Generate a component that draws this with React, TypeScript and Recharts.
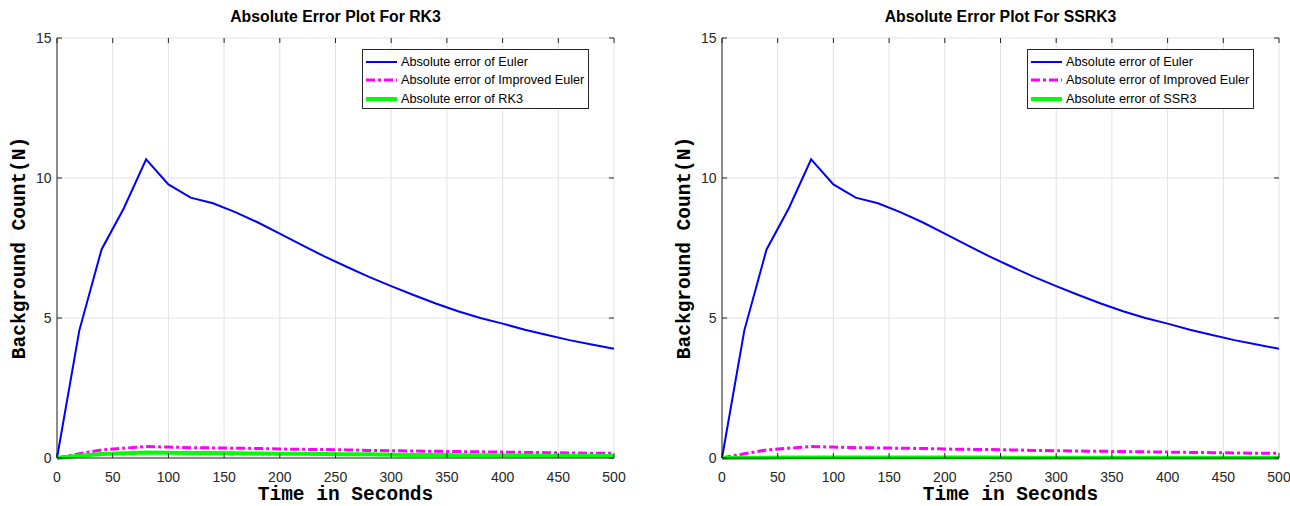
import React from "react";
import {
  CartesianGrid,
  Legend,
  Line,
  LineChart,
  XAxis,
  YAxis,
} from "recharts";

// sample times (s), every 20 s
const times = [
  0, 20, 40, 60, 80, 100, 120, 140, 160, 180, 200, 220, 240, 260, 280, 300,
  320, 340, 360, 380, 400, 420, 440, 460, 480, 500,
];

const eulerError = [
  0, 4.55, 7.45, 8.92, 10.67, 9.77, 9.3, 9.1, 8.78, 8.42, 8.01, 7.6, 7.2, 6.83,
  6.47, 6.14, 5.82, 5.52, 5.24, 5.0, 4.8, 4.58, 4.39, 4.21, 4.05, 3.9,
];

const improvedEulerError = [
  0, 0.15, 0.29, 0.35, 0.41, 0.39, 0.37, 0.36, 0.35, 0.34, 0.32, 0.31, 0.3,
  0.29, 0.27, 0.26, 0.25, 0.24, 0.23, 0.22, 0.21, 0.2, 0.19, 0.18, 0.17, 0.17,
];

const rk3Error = [
  0, 0.08, 0.14, 0.17, 0.2, 0.19, 0.18, 0.18, 0.17, 0.16, 0.15, 0.15, 0.14,
  0.13, 0.13, 0.12, 0.11, 0.11, 0.1, 0.1, 0.09, 0.09, 0.08, 0.08, 0.08, 0.07,
];

const ssr3Error = [
  0, 0.01, 0.01, 0.02, 0.02, 0.02, 0.02, 0.02, 0.02, 0.02, 0.02, 0.02, 0.02,
  0.01, 0.01, 0.01, 0.01, 0.01, 0.01, 0.01, 0.01, 0.01, 0.01, 0.01, 0.01, 0.01,
];

const xTicks = [0, 50, 100, 150, 200, 250, 300, 350, 400, 450, 500];
const yTicks = [0, 5, 10, 15];

const SANS = "'Liberation Sans', Arial, Helvetica, sans-serif";
const MONO = "'Liberation Mono', 'Courier New', monospace";
const AXIS = "#262626";

const CHART_W = 645;
const CHART_H = 506;
// plot box inside each chart
const PLOT_L = 57;
const PLOT_R = 614;
const PLOT_T = 38;
const PLOT_B = 458;
const TICK = 5;

type SeriesStyle = {
  key: string;
  name: string;
  color: string;
  width: number;
  dash?: string;
};

function LegendBox({ items }: { items: SeriesStyle[] }) {
  return (
    <div
      style={{
        boxSizing: "border-box",
        width: 227,
        height: 60,
        border: `1px solid ${AXIS}`,
        background: "#fff",
        paddingTop: 3,
        fontFamily: SANS,
        fontSize: 12.7,
        color: "#000",
      }}
    >
      {items.map((s) => (
        <div
          key={s.key}
          style={{ display: "flex", alignItems: "center", height: 18.3 }}
        >
          <svg width={38} height={10} style={{ flex: "none" }}>
            <line
              x1={3}
              x2={34}
              y1={5}
              y2={5}
              stroke={s.color}
              strokeWidth={s.width}
              strokeDasharray={s.dash}
            />
          </svg>
          <span style={{ whiteSpace: "nowrap" }}>{s.name}</span>
        </div>
      ))}
    </div>
  );
}

// inward tick marks on bottom + top edges, label under the bottom edge
const BottomTick = (props: any) => {
  const { x, payload } = props;
  return (
    <g>
      <line x1={x} x2={x} y1={PLOT_B} y2={PLOT_B - TICK} stroke={AXIS} />
      <line x1={x} x2={x} y1={PLOT_T} y2={PLOT_T + TICK} stroke={AXIS} />
      <text
        x={x}
        y={481.5}
        textAnchor="middle"
        fontFamily={SANS}
        fontSize={14}
        fill={AXIS}
      >
        {payload.value}
      </text>
    </g>
  );
};

// inward tick marks on left + right edges, label left of the box
const LeftTick = (props: any) => {
  const { y, payload } = props;
  return (
    <g>
      <line x1={PLOT_L} x2={PLOT_L + TICK} y1={y} y2={y} stroke={AXIS} />
      <line x1={PLOT_R} x2={PLOT_R - TICK} y1={y} y2={y} stroke={AXIS} />
      <text
        x={51.5}
        y={y}
        dy="0.36em"
        textAnchor="end"
        fontFamily={SANS}
        fontSize={14}
        fill={AXIS}
      >
        {payload.value}
      </text>
    </g>
  );
};

const xLabel = (props: any) => {
  const { x, width } = props.viewBox;
  return (
    <text
      x={x + width / 2 + 10}
      y={500}
      textAnchor="middle"
      fontFamily={MONO}
      fontWeight="bold"
      fontSize={19.5}
      fill="#000"
    >
      Time in Seconds
    </text>
  );
};

const yLabel = (props: any) => {
  const { y, height } = props.viewBox;
  const cy = y + height / 2;
  return (
    <text
      x={25}
      y={cy}
      transform={`rotate(-90, 25, ${cy})`}
      textAnchor="middle"
      fontFamily={MONO}
      fontWeight="bold"
      fontSize={19.5}
      fill="#000"
    >
      Background Count(N)
    </text>
  );
};

function ErrorPanel({
  left,
  title,
  third,
  thirdName,
}: {
  left: number;
  title: string;
  third: number[];
  thirdName: string;
}) {
  const rows = times.map((t, i) => ({
    t,
    euler: eulerError[i],
    improved: improvedEulerError[i],
    third: third[i],
  }));

  const series: SeriesStyle[] = [
    { key: "euler", name: "Absolute error of Euler", color: "#0000ff", width: 2 },
    {
      key: "improved",
      name: "Absolute error of Improved Euler",
      color: "#ff00ff",
      width: 3,
      dash: "9 3 3 3",
    },
    { key: "third", name: thirdName, color: "#00ff00", width: 4 },
  ];

  return (
    <div
      style={{
        position: "absolute",
        left,
        top: 0,
        width: CHART_W,
        height: CHART_H,
      }}
    >
      <div
        style={{
          position: "absolute",
          left: PLOT_L,
          width: PLOT_R - PLOT_L,
          top: 9,
          lineHeight: "16px",
          textAlign: "center",
          fontFamily: SANS,
          fontWeight: "bold",
          fontSize: 15.8,
          color: "#000",
        }}
      >
        {title}
      </div>
      <LineChart
        width={CHART_W}
        height={CHART_H}
        data={rows}
        margin={{
          top: PLOT_T,
          right: CHART_W - PLOT_R,
          bottom: 0,
          left: 0,
        }}
      >
        <CartesianGrid xAxisId="b" yAxisId="l" stroke="#e2e2e2" />
        <XAxis
          xAxisId="b"
          dataKey="t"
          type="number"
          domain={[0, 500]}
          ticks={xTicks}
          height={CHART_H - PLOT_B}
          tickLine={false}
          tickSize={0}
          stroke={AXIS}
          tick={BottomTick}
          label={{ content: xLabel }}
        />
        <XAxis
          xAxisId="t"
          orientation="top"
          dataKey="t"
          type="number"
          domain={[0, 500]}
          height={0}
          tickLine={false}
          tick={false}
          stroke={AXIS}
        />
        <YAxis
          yAxisId="l"
          type="number"
          domain={[0, 15]}
          ticks={yTicks}
          width={PLOT_L}
          tickLine={false}
          tickSize={0}
          stroke={AXIS}
          tick={LeftTick}
          label={{ content: yLabel }}
        />
        <YAxis
          yAxisId="r"
          orientation="right"
          type="number"
          domain={[0, 15]}
          width={0}
          tickLine={false}
          tick={false}
          stroke={AXIS}
        />
        <Legend
          layout="vertical"
          align="center"
          verticalAlign="middle"
          wrapperStyle={{ left: 362, top: 49, width: 227, height: 60 }}
          content={() => <LegendBox items={series} />}
        />
        {series.map((s) => (
          <Line
            key={s.key}
            xAxisId="b"
            yAxisId="l"
            type="linear"
            dataKey={s.key}
            name={s.name}
            stroke={s.color}
            strokeWidth={s.width}
            strokeDasharray={s.dash}
            dot={false}
            activeDot={false}
            isAnimationActive={false}
          />
        ))}
      </LineChart>
    </div>
  );
}

export default function App() {
  return (
    <div
      style={{
        position: "absolute",
        left: 0,
        top: 0,
        width: 1290,
        height: 506,
        background: "#fff",
      }}
    >
      <ErrorPanel
        left={0}
        title="Absolute Error Plot For RK3"
        third={rk3Error}
        thirdName="Absolute error of RK3"
      />
      <ErrorPanel
        left={665}
        title="Absolute Error Plot For SSRK3"
        third={ssr3Error}
        thirdName="Absolute error of SSR3"
      />
    </div>
  );
}
